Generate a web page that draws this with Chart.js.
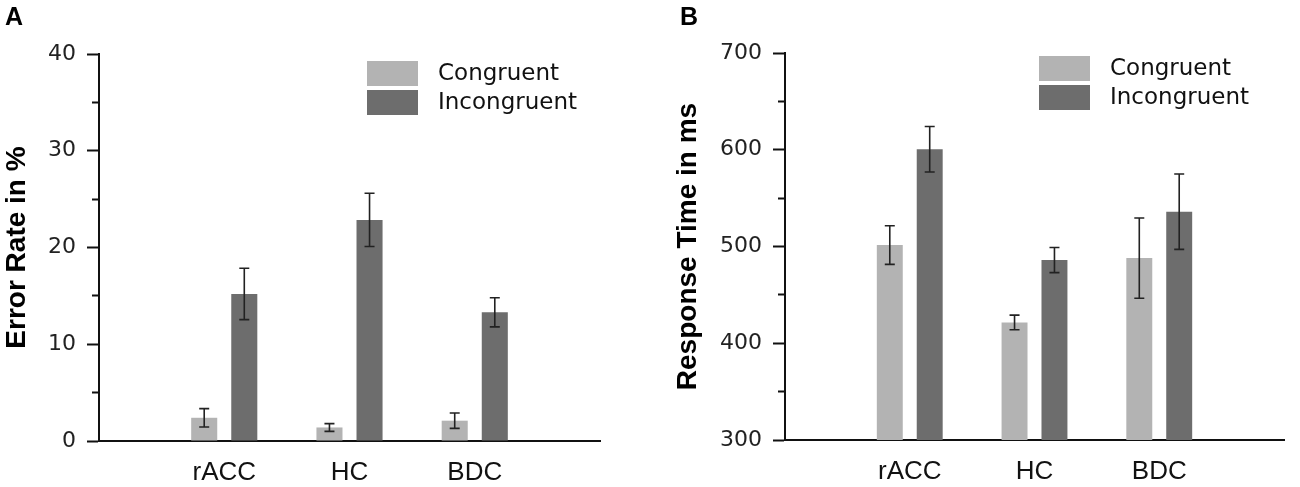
<!DOCTYPE html>
<html>
<head>
<meta charset="utf-8">
<script src="https://cdn.jsdelivr.net/npm/chart.js@4.4.1/dist/chart.umd.min.js"></script>
<style>
  body { margin: 0; background: #fff; }
  .panel { position: absolute; top: 0; width: 650px; height: 487px; }
  .letter { position: absolute; font: bold 25px "Liberation Sans", Arial, sans-serif; line-height: 25px; color: #000; }
</style>
</head>
<body>
<div class="panel" style="left:0"><canvas id="chartA" width="650" height="487"></canvas></div>
<div class="panel" style="left:650px"><canvas id="chartB" width="650" height="487"></canvas></div>
<div class="letter" style="left:5px; top:4px">A</div>
<div class="letter" style="left:680px; top:4px">B</div>

<script>
// groups on the x axis (blank slots at both ends keep the outer spacing)
const groups = ["", "rACC", "HC", "BDC", ""];
const seriesNames = ["Congruent", "Incongruent"];
const seriesColors = ["#b3b3b3", "#6d6d6d"];

// panel A: error rate in %
const errCongruent = [null, 2.4, 1.4, 2.1, null];
const errCongruentSE = [null, 0.95, 0.4, 0.8, null];
const errIncongruent = [null, 15.2, 22.85, 13.3, null];
const errIncongruentSE = [null, 2.65, 2.75, 1.5, null];

// panel B: response time in ms
const rtCongruent = [null, 501.5, 421.5, 488, null];
const rtCongruentSE = [null, 20, 7.6, 41.5, null];
const rtIncongruent = [null, 600.5, 486, 536, null];
const rtIncongruentSE = [null, 23.5, 13, 39, null];

const errorBars = {
  id: "errorBars",
  afterDatasetsDraw(chart) {
    const ctx = chart.ctx;
    const y = chart.scales.y;
    ctx.save();
    ctx.strokeStyle = "#222";
    ctx.lineWidth = 1.6;
    chart.data.datasets.forEach((ds, di) => {
      const meta = chart.getDatasetMeta(di);
      meta.data.forEach((bar, i) => {
        const v = ds.data[i], e = ds.err[i];
        if (v == null) return;
        const top = y.getPixelForValue(v + e);
        const bot = y.getPixelForValue(v - e);
        ctx.beginPath();
        ctx.moveTo(bar.x, top); ctx.lineTo(bar.x, bot);
        ctx.moveTo(bar.x - 5, top); ctx.lineTo(bar.x + 5, top);
        ctx.moveTo(bar.x - 5, bot); ctx.lineTo(bar.x + 5, bot);
        ctx.stroke();
      });
    });
    ctx.restore();
  }
};

const boxLegend = {
  id: "boxLegend",
  afterDraw(chart, args, opts) {
    const ctx = chart.ctx;
    ctx.save();
    ctx.font = '23px "DejaVu Sans"';
    ctx.textBaseline = "middle";
    chart.data.datasets.forEach((ds, i) => {
      const top = opts.y + i * 29;
      ctx.fillStyle = ds.backgroundColor;
      ctx.fillRect(opts.x, top, 51, 25);
      ctx.fillStyle = "#111";
      ctx.fillText(ds.label, opts.x + 71, top + 13);
    });
    ctx.restore();
  }
};

function makeChart(id, c, cSE, inc, incSE, o) {
  return new Chart(document.getElementById(id), {
    type: "bar",
    data: {
      labels: groups,
      datasets: [
        { label: seriesNames[0], data: c, err: cSE, backgroundColor: seriesColors[0] },
        { label: seriesNames[1], data: inc, err: incSE, backgroundColor: seriesColors[1] }
      ]
    },
    options: {
      responsive: false,
      animation: false,
      categoryPercentage: 0.64,
      barPercentage: 0.65,
      layout: { padding: { top: o.top, right: o.right, bottom: 0, left: 0 } },
      plugins: {
        legend: { display: false },
        tooltip: { enabled: false },
        boxLegend: { x: o.legendX, y: o.legendY }
      },
      scales: {
        x: {
          offset: false,
          grid: { display: false, drawTicks: false },
          border: { display: true, color: "#111", width: 2 },
          ticks: { color: "#111", padding: 16, font: { family: "Liberation Sans", size: 26 } },
          afterFit: (s) => { s.height = 487 - o.bottom; }
        },
        y: {
          min: o.min, max: o.max,
          grid: {
            drawOnChartArea: false, drawTicks: true, tickLength: 12, tickWidth: 2, tickColor: "#111",
            tickBorderDash: (ctx) => (ctx.tick && ctx.tick.value % o.major !== 0) ? [0, 5, 7, 0] : []
          },
          border: { display: true, color: "#111", width: 2 },
          ticks: {
            stepSize: o.major / 2, padding: 11, color: "#222",
            font: { family: "DejaVu Sans", size: 22 },
            callback: (v) => v % o.major === 0 ? v : ""
          },
          title: {
            display: true, text: o.title, color: "#000",
            padding: { top: o.titlePad, bottom: 0 },
            font: { family: "Liberation Sans", size: 28, weight: "bold" }
          },
          afterFit: (s) => { s.width = o.left; }
        }
      }
    },
    plugins: [errorBars, boxLegend]
  });
}

makeChart("chartA", errCongruent, errCongruentSE, errIncongruent, errIncongruentSE,
  { min: 0, max: 40, major: 10, title: "Error Rate in %", titlePad: 0,
    top: 54, bottom: 441, left: 99, right: 50, legendX: 367, legendY: 61 });

makeChart("chartB", rtCongruent, rtCongruentSE, rtIncongruent, rtIncongruentSE,
  { min: 300, max: 700, major: 100, title: "Response Time in ms", titlePad: 21,
    top: 53, bottom: 440, left: 135, right: 10, legendX: 389, legendY: 56 });
</script>
</body>
</html>
